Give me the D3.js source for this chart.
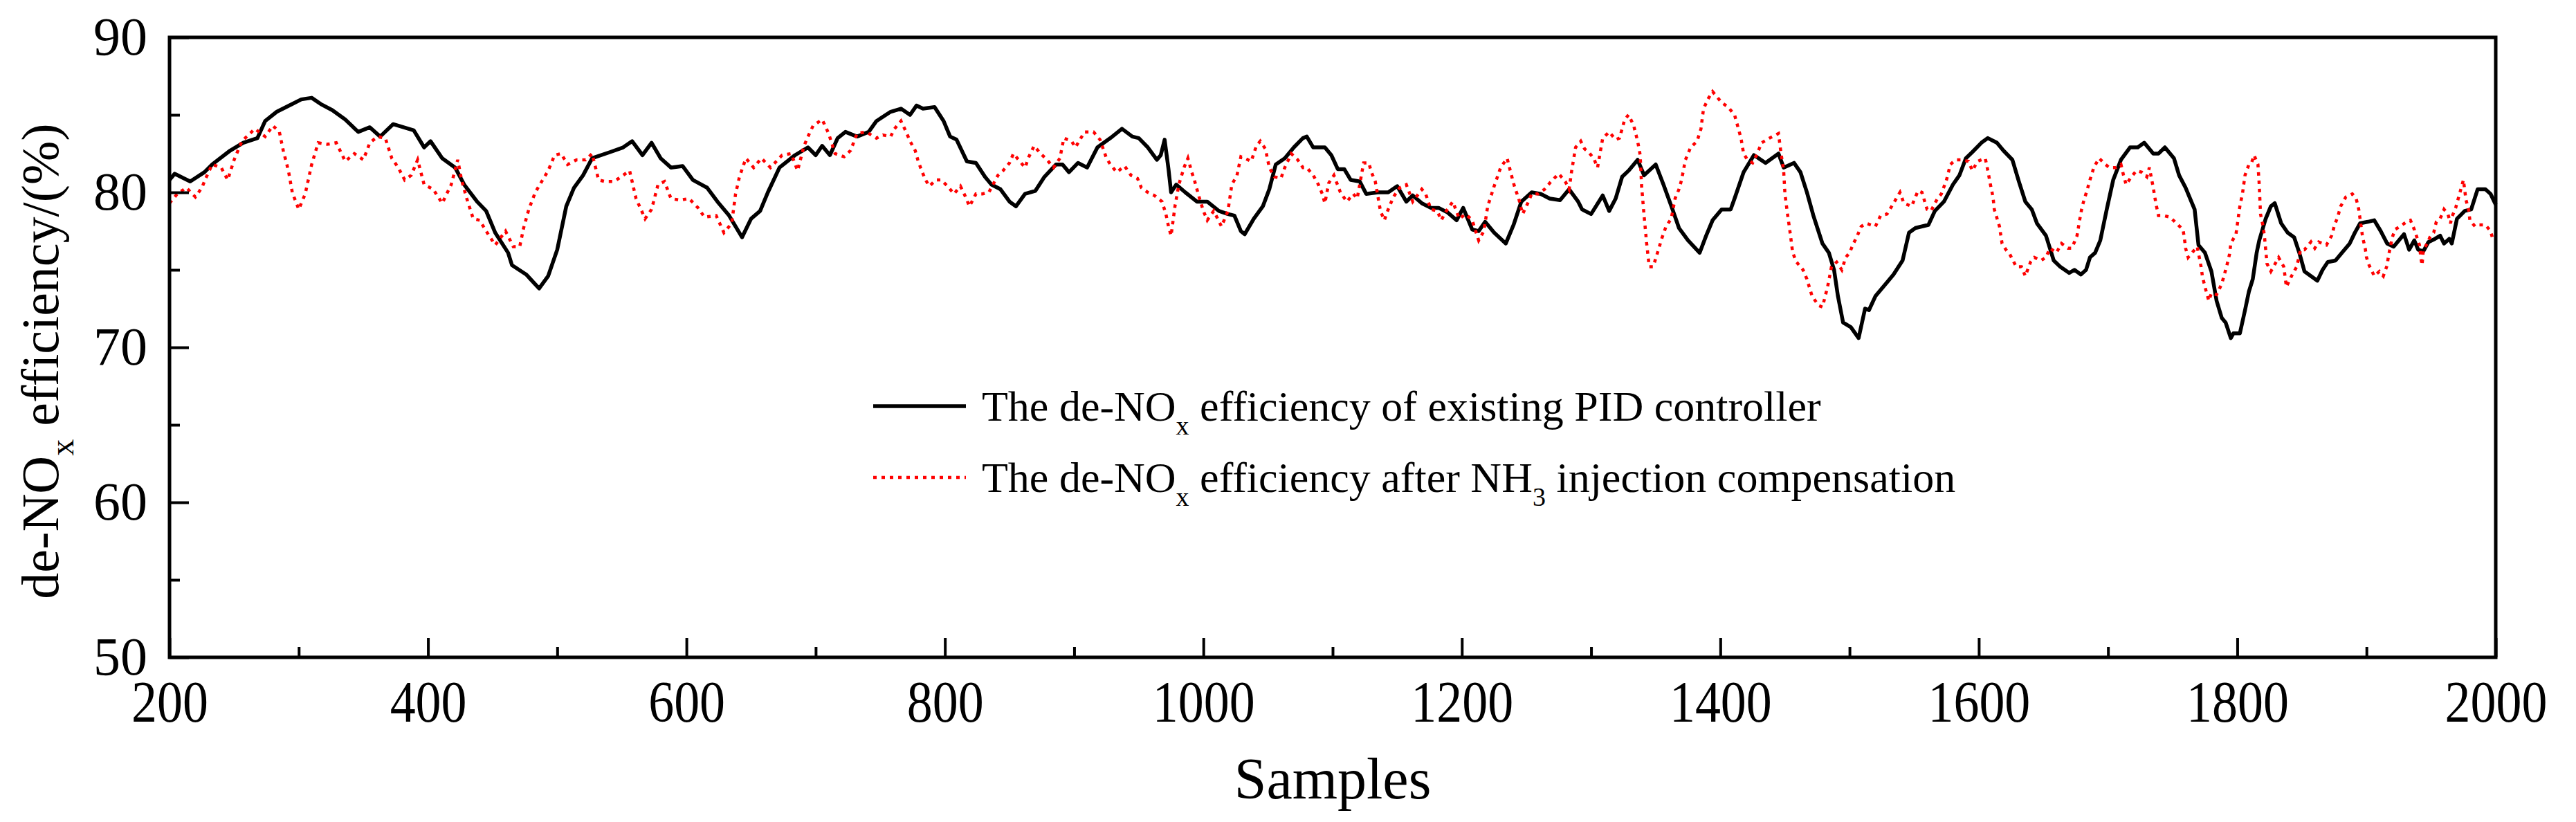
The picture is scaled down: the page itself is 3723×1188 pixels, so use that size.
<!DOCTYPE html>
<html>
<head>
<meta charset="utf-8">
<script src="https://cdn.jsdelivr.net/npm/d3@7"></script>
<style>
	body { margin: 0; background: #ffffff; }
	svg text { font-family: "Liberation Serif", "Times New Roman", serif; fill: #000000; }
</style>
</head>
<body>
<svg id="chart" width="3723" height="1188"></svg>

<script>
	// existing PID controller (black solid)
	const pidSamples = [ 200, 204, 216, 227, 233, 247, 257, 268, 274, 283, 295, 302, 310, 317, 326, 336, 346, 355, 363, 373, 389, 397, 402, 411, 421, 428, 438, 445, 452, 462, 465, 476, 486, 493, 500, 507, 513, 520, 527, 541, 551, 558, 566, 573, 580, 588, 597, 605, 616, 624, 633, 643, 650, 657, 663, 672, 684,
		694, 700, 705, 711, 717, 723, 732, 741, 747, 758, 766, 773, 778, 783, 792, 799, 804, 809, 817, 824, 831, 836, 843, 850, 855, 862, 870, 877, 886, 891, 896, 903, 910, 918, 928, 937, 945, 950, 957, 964, 967, 970, 973, 975, 979, 986, 995, 1003, 1012, 1019, 1024, 1029, 1032, 1039, 1046, 1051, 1056, 1063, 1070, 1077, 1080, 1085, 1094, 1099, 1104, 1109, 1114, 1121, 1126, 1135, 1143, 1150, 1157, 1162, 1169, 1176, 1182, 1189, 1196, 1201, 1208,
		1213, 1218, 1225, 1234, 1240, 1246, 1254, 1261, 1268, 1276, 1283, 1290, 1293, 1300, 1309, 1314, 1319, 1324, 1329, 1336, 1341, 1350, 1356, 1363, 1368, 1375, 1384, 1389, 1394, 1401, 1408, 1411, 1418, 1426, 1435, 1440, 1445, 1449, 1457, 1462, 1467, 1472, 1479, 1484, 1488, 1491, 1495, 1501, 1507, 1512, 1515, 1520, 1529, 1534, 1541, 1546, 1551, 1561, 1566, 1573, 1580, 1585, 1590, 1595, 1602, 1607, 1614, 1619, 1626, 1631, 1636, 1641, 1645, 1652, 1658, 1663, 1670,
		1674, 1679, 1683, 1686, 1690, 1694, 1699, 1704, 1710, 1717, 1723, 1728, 1735, 1739, 1744, 1751, 1755, 1760, 1767, 1770, 1775, 1780, 1784, 1788, 1791, 1795, 1797, 1802, 1806, 1809, 1812, 1815, 1817, 1822, 1826, 1829, 1834, 1839, 1844, 1848, 1852, 1857, 1862, 1866, 1870, 1876, 1881, 1887, 1891, 1895, 1901, 1906, 1911, 1916, 1921, 1926, 1929, 1933, 1937, 1940, 1944, 1948, 1953, 1957, 1960, 1964, 1966, 1970, 1976, 1981, 1986, 1992, 1996, 2000 ];
	const pidValues = [ 80.8, 81.2, 80.7, 81.3, 81.8, 82.7, 83.2, 83.5, 84.6, 85.2, 85.7, 86.0, 86.1, 85.7, 85.3, 84.7, 83.9, 84.2, 83.6, 84.4, 84.0, 82.9, 83.3, 82.2, 81.6, 80.5, 79.4, 78.8, 77.4, 76.1, 75.3, 74.7, 73.8, 74.6, 76.3, 79.1, 80.3, 81.1, 82.2, 82.6, 82.9, 83.3, 82.4, 83.2, 82.2, 81.6, 81.7, 80.8, 80.3, 79.4, 78.5, 77.1, 78.3, 78.8, 80.0, 81.6, 82.4,
		82.9, 82.4, 83.0, 82.4, 83.5, 83.9, 83.6, 83.9, 84.6, 85.2, 85.4, 85.0, 85.6, 85.4, 85.5, 84.6, 83.6, 83.4, 82.0, 81.9, 81.0, 80.5, 80.2, 79.4, 79.1, 79.9, 80.1, 81.0, 81.8, 81.8, 81.3, 81.9, 81.6, 82.9, 83.5, 84.1, 83.6, 83.5, 82.9, 82.1, 82.4, 83.4, 81.5, 80.0, 80.5, 80.0, 79.4, 79.4, 78.8, 78.6, 78.5, 77.5, 77.3, 78.3, 79.1, 80.2, 81.8, 82.2, 82.9, 83.5, 83.6, 82.9, 82.9, 82.4, 81.5, 81.5, 80.8, 80.7, 79.9, 80.0, 80.0, 80.4, 79.4, 79.8, 79.3, 79.0, 79.0, 78.7, 78.2, 79.0, 77.6,
		77.5, 78.1, 77.4, 76.7, 77.9, 79.4, 80.0, 79.9, 79.6, 79.5, 80.2, 79.4, 78.9, 78.6, 79.8, 78.8, 79.6, 81.0, 81.4, 82.1, 81.1, 81.8, 80.5, 78.9, 77.7, 76.9, 76.1, 77.2, 78.2, 78.9, 78.9, 79.6, 81.3, 82.4, 81.9, 82.2, 82.5, 81.6, 81.9, 81.3, 80.0, 78.5, 76.7, 76.1, 75.0, 73.3, 71.6, 71.3, 70.6, 72.5, 72.4, 73.3, 74.2, 74.7, 75.6, 77.4, 77.7, 77.9, 78.8, 79.4, 80.5, 81.1, 82.2, 82.6, 83.2, 83.5, 83.2, 82.7, 82.1, 80.7, 79.4, 78.9, 78.0, 77.2, 75.6, 75.2, 74.8,
		75.0, 74.7, 75.0, 75.8, 76.1, 76.9, 78.9, 80.8, 82.1, 82.9, 82.9, 83.2, 82.5, 82.5, 82.9, 82.2, 81.1, 80.3, 78.9, 76.6, 76.1, 74.9, 73.0, 71.9, 71.6, 70.6, 70.9, 70.9, 72.4, 73.6, 74.4, 76.1, 76.9, 78.3, 79.1, 79.3, 78.0, 77.4, 77.1, 76.1, 74.9, 74.6, 74.3, 75.0, 75.5, 75.6, 76.1, 76.7, 77.4, 78.0, 78.1, 78.2, 77.5, 76.7, 76.5, 77.0, 77.3, 76.3, 76.9, 76.3, 76.2, 76.8, 77.0, 77.2, 76.7, 77.0, 76.7, 78.3, 78.8, 78.9, 80.2, 80.2, 79.9, 79.2 ];

	// after NH3 injection compensation (red dotted)
	const compSamples = [ 200, 206, 213, 220, 225, 228, 233, 240, 245, 250, 256, 266, 274, 280, 285, 288, 292, 295, 300, 305, 310, 315, 322, 329, 336, 343, 350, 355, 361, 367, 372, 377, 382, 387, 392, 397, 404, 411, 418, 423, 426, 430, 435, 440, 445, 452, 460, 466, 471, 474, 478, 483, 488, 493, 498, 503, 508, 515, 522, 527, 532, 537, 544, 551, 556, 561, 568, 573, 578, 583, 588, 595, 602, 609, 614, 623, 629, 635, 638, 641, 646, 652, 658, 665, 674, 681,
		686, 691, 694, 698, 705, 710, 715, 722, 727, 732, 739, 747, 752, 758, 761, 766, 770, 773, 777, 779, 782, 785, 788, 793, 797, 802, 807, 812, 816, 819, 824, 829, 834, 841, 845, 850, 853, 857, 862, 865, 869, 874, 879, 884, 889, 892, 898, 901, 908, 915, 920, 925, 928, 933, 939, 944, 949, 952, 957, 962, 968, 971, 973, 975, 978, 981, 985, 988, 991, 993, 997, 1000, 1003, 1008, 1014, 1019, 1022, 1026, 1029, 1032, 1037, 1041, 1044, 1048, 1051, 1055, 1060, 1063, 1068, 1073, 1077, 1080, 1085, 1089, 1092, 1094, 1097, 1101, 1106, 1111, 1116, 1119, 1124, 1128, 1130, 1133, 1137, 1140, 1143, 1147, 1152, 1157, 1162, 1169, 1172, 1176, 1181, 1184, 1188, 1193,
		1198, 1203, 1208, 1213, 1217, 1220, 1225, 1230, 1235, 1239, 1241, 1244, 1247, 1251, 1254, 1259, 1264, 1269, 1275, 1280, 1283, 1285, 1288, 1292, 1295, 1298, 1302, 1305, 1309, 1314, 1319, 1322, 1326, 1329, 1333, 1336, 1338, 1339, 1341, 1343, 1345, 1348, 1351, 1355, 1358, 1362, 1365, 1368, 1370, 1373, 1377, 1382, 1385, 1387, 1391, 1394, 1401, 1406, 1411, 1414, 1416, 1418, 1421, 1425, 1428, 1432, 1438, 1445, 1447, 1449, 1450, 1452, 1454, 1456, 1459, 1464, 1467, 1471, 1476, 1479, 1483, 1486, 1490, 1494, 1497, 1500, 1503, 1506, 1509, 1513, 1520, 1524, 1529, 1534, 1539, 1542, 1548, 1553, 1556, 1560, 1563, 1568, 1571, 1575, 1578, 1582, 1587, 1592, 1595, 1599, 1602, 1605, 1607, 1609, 1611, 1612, 1616, 1618, 1621, 1624, 1629, 1633, 1636, 1640, 1643, 1648, 1652, 1655, 1660, 1664, 1669, 1672,
		1676, 1678, 1680, 1684, 1686, 1689, 1693, 1698, 1701, 1706, 1710, 1712, 1714, 1718, 1722, 1726, 1730, 1732, 1735, 1737, 1739, 1743, 1748, 1753, 1758, 1759, 1760, 1762, 1765, 1769, 1772, 1773, 1775, 1778, 1780, 1784, 1788, 1790, 1792, 1794, 1795, 1799, 1800, 1801, 1802, 1804, 1805, 1806, 1809, 1811, 1813, 1816, 1817, 1818, 1820, 1821, 1822, 1823, 1826, 1830, 1832, 1836, 1838, 1842, 1846, 1849, 1852, 1857, 1860, 1863, 1869, 1873, 1875, 1878, 1880, 1884, 1889, 1892, 1894, 1895, 1896, 1897, 1899, 1900, 1902, 1906, 1910, 1913, 1916, 1917, 1920, 1922, 1926, 1931, 1934, 1937, 1939, 1941, 1942, 1943, 1944, 1947, 1949, 1952, 1954, 1957, 1960, 1963, 1965, 1966, 1969, 1971, 1973, 1975, 1977, 1979, 1980, 1984, 1987, 1992, 1996, 1998 ];
	const compValues = [ 79.3, 79.9, 80.3, 79.7, 80.3, 80.9, 81.8, 81.6, 80.8, 82.1, 83.3, 84.1, 83.6, 84.3, 83.9, 82.7, 81.4, 80.0, 78.9, 79.9, 81.8, 83.2, 83.1, 83.2, 82.0, 82.5, 82.1, 83.2, 83.6, 83.5, 82.2, 81.6, 80.8, 81.1, 82.1, 80.5, 80.2, 79.3, 80.5, 82.1, 80.8, 79.6, 78.3, 78.2, 77.5, 76.6, 77.5, 76.5, 76.5, 77.7, 78.9, 80.0, 80.7, 81.4, 82.4, 82.5, 81.8, 82.1, 82.1, 82.5, 80.8, 80.7, 80.7, 81.1, 81.4, 79.6, 78.3, 78.9, 80.5, 80.7, 79.6, 79.5, 79.6, 79.0, 78.4, 78.5, 77.4, 78.0, 79.9, 81.0, 82.2, 81.6, 82.2, 81.6, 82.4, 82.5,
		81.4, 83.0, 83.6, 84.3, 84.7, 83.8, 82.5, 82.3, 82.7, 83.8, 83.9, 83.5, 83.7, 83.6, 84.1, 84.6, 83.9, 83.3, 82.7, 82.1, 81.4, 80.8, 80.4, 80.8, 80.8, 80.4, 79.9, 80.4, 79.7, 79.1, 79.9, 79.9, 80.0, 81.1, 81.4, 81.9, 82.5, 82.1, 81.6, 82.3, 83.0, 82.5, 82.1, 81.6, 82.2, 83.5, 83.3, 82.9, 83.9, 83.9, 83.4, 82.2, 81.8, 81.3, 81.7, 81.1, 80.9, 80.3, 80.0, 79.8, 79.4, 78.6, 77.8, 77.2, 79.1, 80.5, 81.6, 82.2, 81.3, 80.8, 79.6, 78.8, 78.2, 78.8, 77.8, 78.8, 80.5, 81.1, 82.3, 82.2, 82.0, 83.0, 83.3, 82.8, 81.6, 81.0, 80.9, 81.6, 82.5, 82.1, 81.6, 81.6, 81.1, 80.5, 79.9, 79.3, 80.6, 81.1, 80.0, 79.4, 79.9, 79.6, 81.9, 81.9, 81.3, 80.7, 78.8, 78.2, 78.9, 79.7, 80.3, 80.5, 79.4, 80.2, 79.9, 78.9, 78.8, 78.2, 78.8, 79.4,
		78.3, 78.6, 78.2, 76.9, 77.5, 79.1, 80.4, 81.6, 82.2, 80.9, 80.3, 79.6, 78.6, 79.3, 79.9, 79.9, 80.2, 80.7, 81.2, 80.7, 80.2, 81.4, 82.9, 83.3, 82.8, 82.6, 82.2, 81.6, 83.5, 83.9, 83.4, 83.5, 84.7, 85.0, 84.3, 83.3, 82.4, 80.5, 78.5, 76.7, 75.2, 75.2, 76.0, 77.1, 77.8, 78.3, 79.6, 80.2, 80.8, 82.1, 82.9, 83.3, 84.1, 85.4, 86.1, 86.5, 85.8, 85.5, 85.0, 84.1, 83.5, 82.5, 82.1, 81.9, 82.4, 83.2, 83.5, 83.8, 82.5, 81.4, 79.9, 78.6, 77.4, 76.1, 75.5, 75.0, 74.4, 73.3, 72.7, 72.6, 73.9, 75.2, 75.5, 75.0, 75.8, 76.1, 76.7, 77.2, 77.8, 78.0, 77.8, 78.5, 78.6, 79.3, 80.0, 79.3, 79.1, 80.1, 80.0, 78.9, 78.8, 79.6, 79.9, 80.8, 81.8, 82.1, 82.1, 82.0, 81.4, 82.0, 82.1, 82.2, 81.4, 80.5, 79.7, 78.9, 77.8, 76.7, 76.3, 76.0, 75.2, 75.2, 74.6, 75.5, 75.8, 75.6, 75.8, 76.4, 76.1, 76.7, 76.4, 76.4,
		77.2, 78.2, 79.1, 80.2, 80.8, 81.6, 82.2, 81.8, 81.6, 81.6, 81.8, 81.1, 80.5, 81.0, 81.4, 81.3, 81.0, 81.6, 80.3, 79.3, 78.5, 78.5, 78.4, 78.0, 77.6, 77.1, 76.4, 75.8, 76.1, 76.5, 75.2, 74.6, 73.9, 73.0, 73.5, 73.4, 74.1, 74.7, 75.3, 76.0, 76.7, 77.3, 77.9, 78.5, 79.1, 79.9, 80.5, 81.1, 81.8, 81.9, 82.4, 81.8, 80.5, 78.6, 77.8, 77.2, 76.3, 75.4, 74.9, 75.5, 75.8, 75.2, 73.9, 74.6, 75.2, 76.3, 76.3, 76.8, 76.4, 76.8, 76.6, 77.2, 77.8, 78.5, 79.1, 79.7, 79.9, 79.6, 78.9, 78.3, 77.7, 77.1, 76.4, 75.8, 75.3, 74.6, 74.9, 74.6, 75.3, 75.9, 77.1, 77.6, 77.8, 78.1, 78.2, 77.6, 77.1, 76.6, 75.8, 75.3, 76.3, 76.7, 77.1, 77.4, 78.1, 78.3, 78.9, 78.6, 78.0, 78.4, 79.0, 79.6, 80.2, 80.8, 79.5, 78.9, 78.2, 77.8, 77.9, 77.9, 77.5, 76.9 ];

	const xTicks = [ 200, 400, 600, 800, 1000, 1200, 1400, 1600, 1800, 2000 ];
	const xMinorTicks = [ 300, 500, 700, 900, 1100, 1300, 1500, 1700, 1900 ];
	const yTicks = [ 50, 60, 70, 80, 90 ];
	const yMinorTicks = [ 55, 65, 75, 85 ];

	function drawChart() {
		let svg = d3.select( '#chart' ),
			margin = { top: 54, right: 116, bottom: 238, left: 245 },
			width = 3723 - margin.left - margin.right,
			height = 1188 - margin.top - margin.bottom,
			g = svg.append( 'g' ).attr( 'transform', 'translate(' + margin.left + ',' + margin.top + ')' );

		let x = d3.scaleLinear().domain( [ 200, 2000 ] ).range( [ 0, width ] ),
			y = d3.scaleLinear().domain( [ 50, 90 ] ).range( [ height, 0 ] );

		// series
		let pid = pidSamples.map( ( s, i ) => [ s, pidValues[ i ] ] ),
			comp = compSamples.map( ( s, i ) => [ s, compValues[ i ] ] ),
			line = d3.line().x( d => x( d[ 0 ] ) ).y( d => y( d[ 1 ] ) );

		g.append( 'path' ).datum( pid )
			.attr( 'd', line )
			.style( 'fill', 'none' ).style( 'stroke', '#000000' ).style( 'stroke-width', 5.5 )
			.style( 'stroke-linejoin', 'round' );

		g.append( 'path' ).datum( comp )
			.attr( 'd', line )
			.style( 'fill', 'none' ).style( 'stroke', '#ff0000' ).style( 'stroke-width', 4.5 )
			.style( 'stroke-dasharray', '5,7' );

		// axes: ticks point inwards, minor ticks shorter
		let xAxis = g.append( 'g' ).attr( 'transform', 'translate(0,' + height + ')' )
			.call( d3.axisBottom( x ).tickValues( xTicks ).tickSize( -28 ).tickPadding( 93 ).tickFormat( d3.format( 'd' ) ) );
		g.append( 'g' ).attr( 'transform', 'translate(0,' + height + ')' )
			.call( d3.axisBottom( x ).tickValues( xMinorTicks ).tickSize( -15 ).tickFormat( '' ) );

		let yAxis = g.append( 'g' )
			.call( d3.axisLeft( y ).tickValues( yTicks ).tickSize( -28 ).tickPadding( 32 ) );
		g.append( 'g' )
			.call( d3.axisLeft( y ).tickValues( yMinorTicks ).tickSize( -15 ).tickFormat( '' ) );

		g.selectAll( '.domain' ).remove();
		g.selectAll( '.tick line' ).style( 'stroke', '#000000' ).style( 'stroke-width', 4 );
		// the x labels in the original are a narrow Times, so squeeze them a little
		xAxis.selectAll( 'text' ).style( 'font-size', '84px' ).attr( 'dy', 0 )
			.attr( 'transform', 'scale(0.88,1)' );
		yAxis.selectAll( 'text' ).style( 'font-size', '78px' ).attr( 'dy', '0.32em' );

		// frame
		g.append( 'rect' )
			.attr( 'x', 0 ).attr( 'y', 0 )
			.attr( 'width', width ).attr( 'height', height )
			.style( 'fill', 'none' ).style( 'stroke', '#000000' ).style( 'stroke-width', 5 );

		// axis titles
		svg.append( 'text' )
			.attr( 'x', margin.left + width / 2 ).attr( 'y', 1154 )
			.attr( 'text-anchor', 'middle' )
			.style( 'font-size', '84px' )
			.text( 'Samples' );

		let yTitle = svg.append( 'text' )
			.attr( 'transform', 'translate(84,' + ( margin.top + height / 2 + 20 ) + ') rotate(-90)' )
			.attr( 'text-anchor', 'middle' )
			.style( 'font-size', '76px' );
		yTitle.append( 'tspan' ).text( 'de-NO' );
		yTitle.append( 'tspan' ).attr( 'dy', 22 ).style( 'font-size', '48px' ).text( 'x' );
		yTitle.append( 'tspan' ).attr( 'dy', -22 ).text( ' efficiency/(%)' );

		drawLegend( svg );
	}

	function drawLegend( svg ) {
		let legend = svg.append( 'g' ).attr( 'id', 'legend' ),
			rows = [
				{ y: 587, color: '#000000', dash: null, width: 5.5, parts: [ [ 'The de-NO', 0 ], [ 'x', 1 ], [ ' efficiency of existing PID controller', 0 ] ] },
				{ y: 690, color: '#ff0000', dash: '5,7', width: 4.5, parts: [ [ 'The de-NO', 0 ], [ 'x', 1 ], [ ' efficiency after NH', 0 ], [ '3', 1 ], [ ' injection compensation', 0 ] ] }
			];

		rows.forEach( row => {
			legend.append( 'line' )
				.attr( 'x1', 1262 ).attr( 'x2', 1396 )
				.attr( 'y1', row.y ).attr( 'y2', row.y )
				.style( 'stroke', row.color ).style( 'stroke-width', row.width )
				.style( 'stroke-dasharray', row.dash );

			let t = legend.append( 'text' )
				.attr( 'x', 1419 ).attr( 'y', row.y + 21 )
				.style( 'font-size', '62px' );
			let shifted = 0;
			row.parts.forEach( p => {
				let dy = p[ 1 ] ? 20 - shifted : -shifted;
				shifted += dy;
				t.append( 'tspan' )
					.attr( 'dy', dy )
					.style( 'font-size', p[ 1 ] ? '38px' : '62px' )
					.text( p[ 0 ] );
			} );
		} );
	}

	( function( w, d, d3 ) {
		drawChart();
	} )( window, document, d3 );
</script>
</body>
</html>
